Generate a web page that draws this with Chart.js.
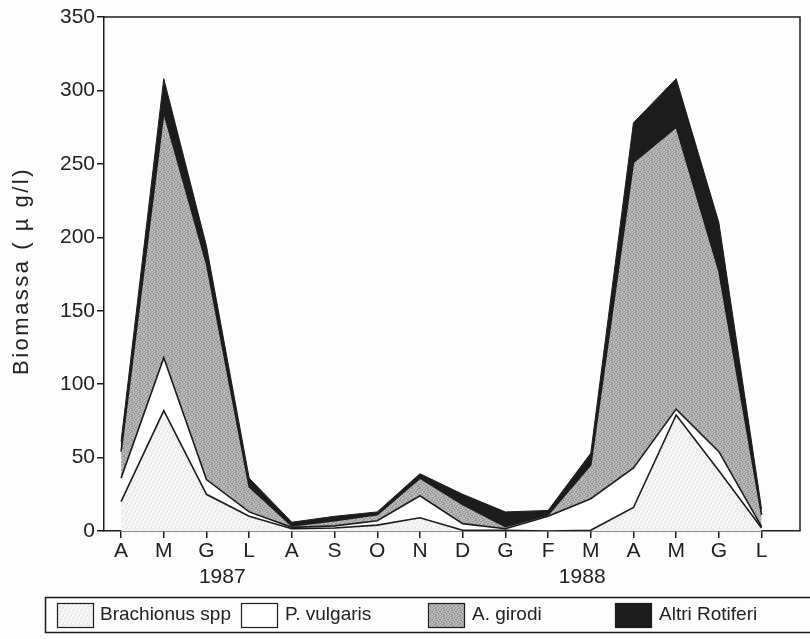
<!DOCTYPE html>
<html>
<head>
<meta charset="utf-8">
<script src="https://cdn.jsdelivr.net/npm/chart.js@4.4.1/dist/chart.umd.min.js"></script>
<style>
  html, body { margin: 0; padding: 0; background: #fdfdfd; }
  #wrap { width: 810px; height: 639px; position: relative; }
</style>
</head>
<body>
<div id="wrap"><canvas id="chart" width="810" height="639"></canvas></div>
<script>
// Months from April 1987 to July 1988
const categories = ['A', 'M', 'G', 'L', 'A', 'S', 'O', 'N', 'D', 'G', 'F', 'M', 'A', 'M', 'G', 'L'];
const years = ['1987', '1988'];
const yTicks = [0, 50, 100, 150, 200, 250, 300, 350];
const yTitle = 'Biomassa ( µ g/l)';

// Biomass (µg/l) per group, stacked in this order
const brachionus = [20, 82, 25, 10, 1.5, 2, 4, 9, 0.5, 0.5, 0, 0.5, 16, 79, 41, 2];
const pVulgaris  = [16, 36, 10, 3, 1, 1.5, 3, 15, 4.5, 1, 10, 21.5, 27, 4, 13, 1];
const aGirodi    = [18, 167, 147, 17, 1, 3.5, 4, 12, 13, 1.5, 1, 23, 208, 192, 123, 8];
const altri      = [7, 23, 12, 6, 2.5, 3, 2, 3, 7, 10, 3, 8, 27, 33, 33, 4];

const seriesNames = ['Brachionus spp', 'P. vulgaris', 'A. girodi', 'Altri Rotiferi'];

const INK = '#1c1c1c';

// Stipple textures for the shaded areas
function makePattern(base, dots, size) {
  const c = document.createElement('canvas');
  c.width = size; c.height = size;
  const g = c.getContext('2d');
  g.fillStyle = base;
  g.fillRect(0, 0, size, size);
  dots.forEach(([x, y, col]) => { g.fillStyle = col; g.fillRect(x, y, 1, 1); });
  return g.createPattern(c, 'repeat');
}
const lightDots = makePattern('#f4f4f4', [
  [1, 1, '#c8c8c8'], [5, 3, '#d4d4d4'], [3, 6, '#cccccc'], [7, 7, '#d8d8d8'],
  [0, 4, '#dedede'], [6, 0, '#dadada']
], 8);
const greyGrain = (() => {
  const rows = [
    '21030120', '03120231', '10213002', '32001213',
    '02130320', '13022101', '20310132', '01203210'
  ];
  const shades = ['#a0a0a0', '#b6b6b6', '#c8c8c8', '#8e8e8e'];
  const pts = [];
  rows.forEach((r, y) => r.split('').forEach((ch, x) => pts.push([x, y, shades[+ch]])));
  return makePattern('#b6b6b6', pts, 8);
})();

const fills = [lightDots, '#ffffff', greyGrain, INK];

function toPoints(arr) { return arr.map((v, i) => ({ x: i, y: v })); }

const seriesData = [brachionus, pVulgaris, aGirodi, altri];
const datasets = seriesData.map((arr, k) => ({
  label: seriesNames[k],
  data: toPoints(arr),
  backgroundColor: fills[k],
  borderColor: INK,
  borderWidth: k === 3 ? 1 : 1.6,
  fill: k === 0 ? 'origin' : '-1',
  tension: 0,
  pointRadius: 0,
  borderJoinStyle: 'miter'
}));

const FONT = '"Liberation Sans", Arial, Helvetica, sans-serif';
const NARROW = '"Liberation Sans Narrow", "Liberation Sans", Arial, sans-serif';

// Frame, axis title, year captions and the boxed legend
const decorations = {
  id: 'decorations',
  afterDraw(chart) {
    const { ctx, chartArea: a, scales } = chart;
    ctx.save();
    ctx.strokeStyle = INK;
    ctx.lineWidth = 1.5;
    ctx.beginPath();
    ctx.moveTo(a.left, a.top);
    ctx.lineTo(a.right, a.top);
    ctx.lineTo(a.right, a.bottom);
    ctx.stroke();

    // vertical axis title
    ctx.save();
    ctx.translate(22, 271);
    ctx.rotate(-Math.PI / 2);
    ctx.fillStyle = '#222';
    ctx.font = '22px ' + FONT;
    if ('letterSpacing' in ctx) ctx.letterSpacing = '2.5px';
    ctx.textAlign = 'center';
    ctx.textBaseline = 'middle';
    ctx.fillText(yTitle, 0, 0);
    ctx.restore();

    ctx.fillStyle = '#222';
    ctx.font = '21px ' + FONT;
    ctx.textAlign = 'center';
    ctx.textBaseline = 'middle';
    const yearAt = [2.37, 10.8];
    years.forEach((t, i) => ctx.fillText(t, scales.x.getPixelForValue(yearAt[i]), 577));

    // legend box
    ctx.lineWidth = 1.5;
    ctx.strokeRect(45.5, 597.5, 780, 35);
    const items = [
      { sw: 57, tx: 100 },
      { sw: 241, tx: 285 },
      { sw: 428, tx: 472 },
      { sw: 615, tx: 659 }
    ];
    ctx.font = '19px ' + NARROW;
    ctx.textAlign = 'left';
    items.forEach((it, k) => {
      ctx.fillStyle = fills[k];
      ctx.fillRect(it.sw, 603, 36, 24);
      ctx.lineWidth = 1.2;
      ctx.strokeRect(it.sw + 0.5, 603.5, 36, 24);
      ctx.fillStyle = '#222';
      ctx.fillText(seriesNames[k], it.tx, 615);
    });
    ctx.restore();
  }
};

new Chart(document.getElementById('chart'), {
  type: 'line',
  data: { datasets },
  plugins: [decorations],
  options: {
    responsive: false,
    animation: false,
    layout: { padding: { top: 17, right: 10, left: 0, bottom: 0 } },
    plugins: { legend: { display: false }, tooltip: { enabled: false } },
    scales: {
      x: {
        type: 'linear',
        min: -0.4,
        max: 15.9,
        border: { display: true, color: INK, width: 1.5 },
        grid: { drawOnChartArea: false, drawTicks: true, tickLength: 7, color: INK, lineWidth: 1.5 },
        ticks: {
          stepSize: 1,
          includeBounds: false,
          autoSkip: false,
          maxRotation: 0,
          padding: 1,
          color: '#222',
          font: { family: FONT, size: 21 },
          callback: (v) => categories[v]
        },
        afterFit(scale) { scale.height = 108; }
      },
      y: {
        stacked: true,
        min: 0,
        max: 350,
        border: { display: true, color: INK, width: 1.5 },
        grid: { drawOnChartArea: false, drawTicks: true, tickLength: 7, color: INK, lineWidth: 1.5 },
        afterBuildTicks(scale) { scale.ticks = yTicks.map(v => ({ value: v })); },
        ticks: {
          padding: 2,
          color: '#222',
          font: { family: FONT, size: 21 }
        },
        afterFit(scale) { scale.width = 104; }
      }
    }
  }
});
</script>
</body>
</html>
